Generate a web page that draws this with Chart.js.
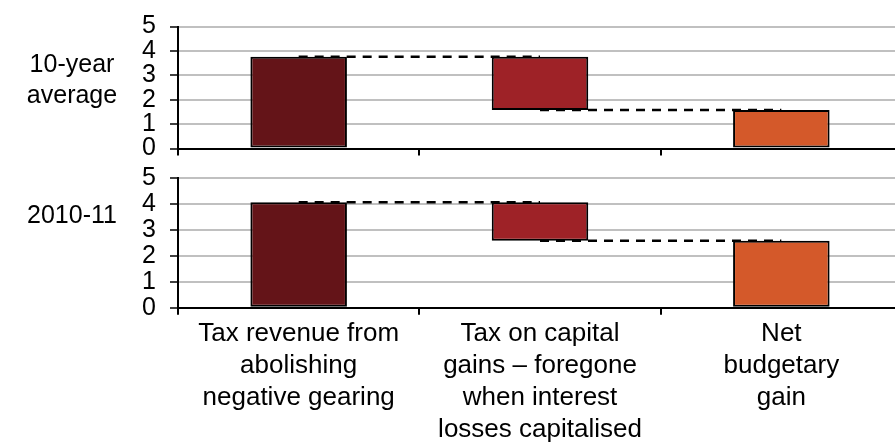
<!DOCTYPE html>
<html>
<head>
<meta charset="utf-8">
<script src="https://cdn.jsdelivr.net/npm/chart.js@4"></script>
<style>
  html, body { margin: 0; padding: 0; background: #fff; overflow: hidden; }
  #wrap { position: relative; width: 895px; height: 442px; overflow: hidden; }
  canvas { position: absolute; left: 0; }
</style>
</head>
<body>
<div id="wrap">
  <canvas id="top-chart" width="902" height="175" style="top:0"></canvas>
  <canvas id="bottom-chart" width="902" height="292" style="top:150px"></canvas>
</div>
<script>
const categories = [
  ['Tax revenue from', 'abolishing', 'negative gearing'],
  ['Tax on capital', 'gains \u2013 foregone', 'when interest', 'losses capitalised'],
  ['Net', 'budgetary', 'gain']
];
const yMax = 5;

// 10-year average: bottom and top of each bar
const avgLow = [0, 1.58, 0];
const avgHigh = [3.76, 3.76, 1.58];

// 2010-11
const fy11Low = [0, 2.59, 0];
const fy11High = [4.07, 4.07, 2.59];

const barColors = ['#641418', '#9e2227', '#d4592a'];
const FAMILY = '"Liberation Sans", Arial, sans-serif';

// draws the panel name to the left of the y axis
const panelLabel = {
  id: 'panelLabel',
  afterDraw(chart, args, opts) {
    const ctx = chart.ctx;
    ctx.save();
    ctx.font = '25px ' + FAMILY;
    ctx.fillStyle = '#000';
    ctx.textAlign = 'center';
    ctx.textBaseline = 'alphabetic';
    opts.lines.forEach((t, i) => ctx.fillText(t, opts.x, opts.y + i * 31));
    ctx.restore();
  }
};

function panel(id, low, high, label, opt) {
  const connector = {
    type: 'line',
    borderColor: '#000',
    borderWidth: 2.5,
    borderDash: [9, 7],
    pointRadius: 0,
    fill: false,
    order: 0
  };
  return new Chart(document.getElementById(id), {
    type: 'bar',
    data: {
      labels: categories,
      datasets: [
        Object.assign({ data: [high[0], high[0], null] }, connector),
        Object.assign({ data: [null, low[1], low[1]] }, connector),
        {
          data: low.map((l, i) => [l, high[i]]),
          backgroundColor: barColors,
          borderColor: '#000',
          borderWidth: 2,
          borderSkipped: false,
          categoryPercentage: 1,
          barPercentage: 0.4,
          order: 1
        }
      ]
    },
    options: {
      responsive: false,
      animation: false,
      devicePixelRatio: 1,
      layout: { padding: { top: opt.padTop, left: 0, right: 0, bottom: 0 } },
      plugins: {
        legend: { display: false },
        tooltip: { enabled: false },
        panelLabel: { lines: label, x: 72, y: opt.labelY }
      },
      scales: {
        x: {
          offset: true,
          grid: { offset: true, drawOnChartArea: false, color: '#000', tickColor: '#000', tickLength: 7, lineWidth: 2 },
          border: { color: '#000', width: 2 },
          ticks: {
            display: opt.showLabels,
            font: { family: FAMILY, size: 26, lineHeight: 1.23 },
            color: '#000', padding: 3, maxRotation: 0, autoSkip: false
          },
          afterFit: s => { s.height = opt.xHeight; }
        },
        y: {
          min: 0,
          max: yMax,
          ticks: { stepSize: 1, autoSkip: false, font: { family: FAMILY, size: 25, lineHeight: 1 }, color: '#000', padding: 14 },
          grid: { color: '#c0c0c0', lineWidth: 2, tickColor: '#000', tickLength: 8, tickWidth: 1.5 },
          border: { color: '#000', width: 2 },
          afterFit: s => { s.width = 178; }
        }
      }
    },
    plugins: [panelLabel]
  });
}

panel('top-chart', avgLow, avgHigh, ['10-year', 'average'],
  { padTop: 20, xHeight: 25.5, showLabels: false, labelY: 72 });
panel('bottom-chart', fy11Low, fy11High, ['2010-11'],
  { padTop: 28.3, xHeight: 134.3, showLabels: true, labelY: 73.3 });
</script>
</body>
</html>
